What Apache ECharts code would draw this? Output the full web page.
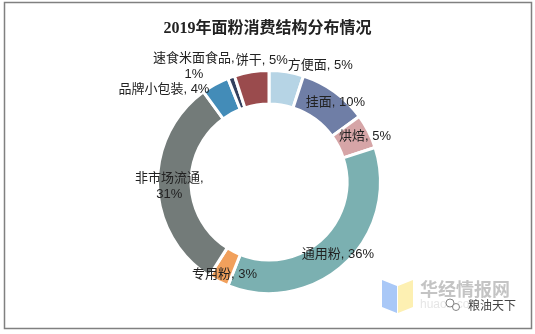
<!DOCTYPE html>
<html>
<head>
<meta charset="utf-8">
<script src="https://cdn.jsdelivr.net/npm/echarts@6/dist/echarts.min.js"></script>
<style>
html,body{margin:0;padding:0;background:#fff;}
#chart{width:535px;height:334px;}
</style>
</head>
<body>
<div id="chart"></div>
<script>
// ---- data ----
const titleText = '2019年面粉消费结构分布情况';
const categories = ['方便面', '挂面', '烘焙', '通用粉', '专用粉', '非市场流通', '品牌小包装', '速食米面食品', '饼干'];
const shares = [5, 10, 5, 36, 3, 31, 4, 1, 5];

// ---- styles ----
const colors = ['#b6d4e5', '#6f7ea6', '#d6a5a7', '#7bb0b1', '#f1a05c', '#737b79', '#438cb8', '#34405e', '#9a4b4d'];
const labelOffsets = [[36, -20], [9, 0], [9, -1], [2, 1], [0, 5], [-2, 1], [-58, -7], [-42, -24], [8, -25]];
const wrapLabel = ['非市场流通', '速食米面食品'];

const chart = echarts.init(document.getElementById('chart'), null, {renderer: 'canvas'});
const fontFam = '"Liberation Sans", "Noto Sans CJK SC", sans-serif';

const option = {
  backgroundColor: '#fff',
  animation: false,
  title: {
    text: titleText,
    left: 'center',
    top: 16,
    textStyle: {fontFamily: '"Liberation Serif", "Noto Sans CJK SC", serif', fontWeight: 'bold', fontSize: 16, color: '#222'}
  },
  graphic: [
    {type: 'rect', shape: {x: 4.5, y: 2.5, width: 527, height: 326}, style: {fill: 'none', stroke: '#808080', lineWidth: 1.5}, z: 100},
    {type: 'polygon', shape: {points: [[382, 280], [397, 286], [397, 313], [382, 307]]}, style: {fill: '#a9c8f7'}},
    {type: 'polygon', shape: {points: [[398, 286], [413, 280], [413, 307], [398, 313]]}, style: {fill: '#fdf0b2'}},
    {type: 'text', style: {x: 420, y: 289, text: '华经情报网', fill: '#c4c4c4', font: 'bold 18px "Noto Sans CJK SC", sans-serif', verticalAlign: 'middle'}},
    {type: 'text', style: {x: 420, y: 305, text: 'huaon.com', fill: '#e6e6e6', font: '12px "Liberation Sans", sans-serif', verticalAlign: 'middle'}},
    {type: 'circle', shape: {cx: 450, cy: 303, r: 4}, style: {fill: '#fff', stroke: '#666', lineWidth: 0.8}},
    {type: 'circle', shape: {cx: 456, cy: 307, r: 3.5}, style: {fill: '#fff', stroke: '#666', lineWidth: 0.8}},
    {type: 'text', style: {x: 468, y: 305, text: '粮油天下', fill: '#444', font: '12px "Noto Sans CJK SC", sans-serif', verticalAlign: 'middle'}}
  ],
  series: [{
    type: 'pie',
    center: [269, 182],
    radius: [78, 111.5],
    startAngle: 90,
    clockwise: true,
    avoidLabelOverlap: false,
    minShowLabelAngle: 0,
    labelLayout: {hideOverlap: false},
    itemStyle: {borderColor: '#fff', borderWidth: 3},
    label: {
      show: true,
      position: 'inside',
      rotate: 0,
      color: '#222',
      fontSize: 13,
      lineHeight: 16,
      fontFamily: fontFam,
      align: 'center',
      formatter: function (p) {
        return wrapLabel.indexOf(p.name) >= 0 ? p.name + ',\n' + p.value + '%' : p.name + ', ' + p.value + '%';
      }
    },
    labelLine: {show: false},
    emphasis: {disabled: true},
    data: categories.map(function (c, i) {
      return {
        name: c,
        value: shares[i],
        itemStyle: {color: colors[i]},
        label: {offset: labelOffsets[i]}
      };
    })
  }]
};
chart.setOption(option);
</script>
</body>
</html>
